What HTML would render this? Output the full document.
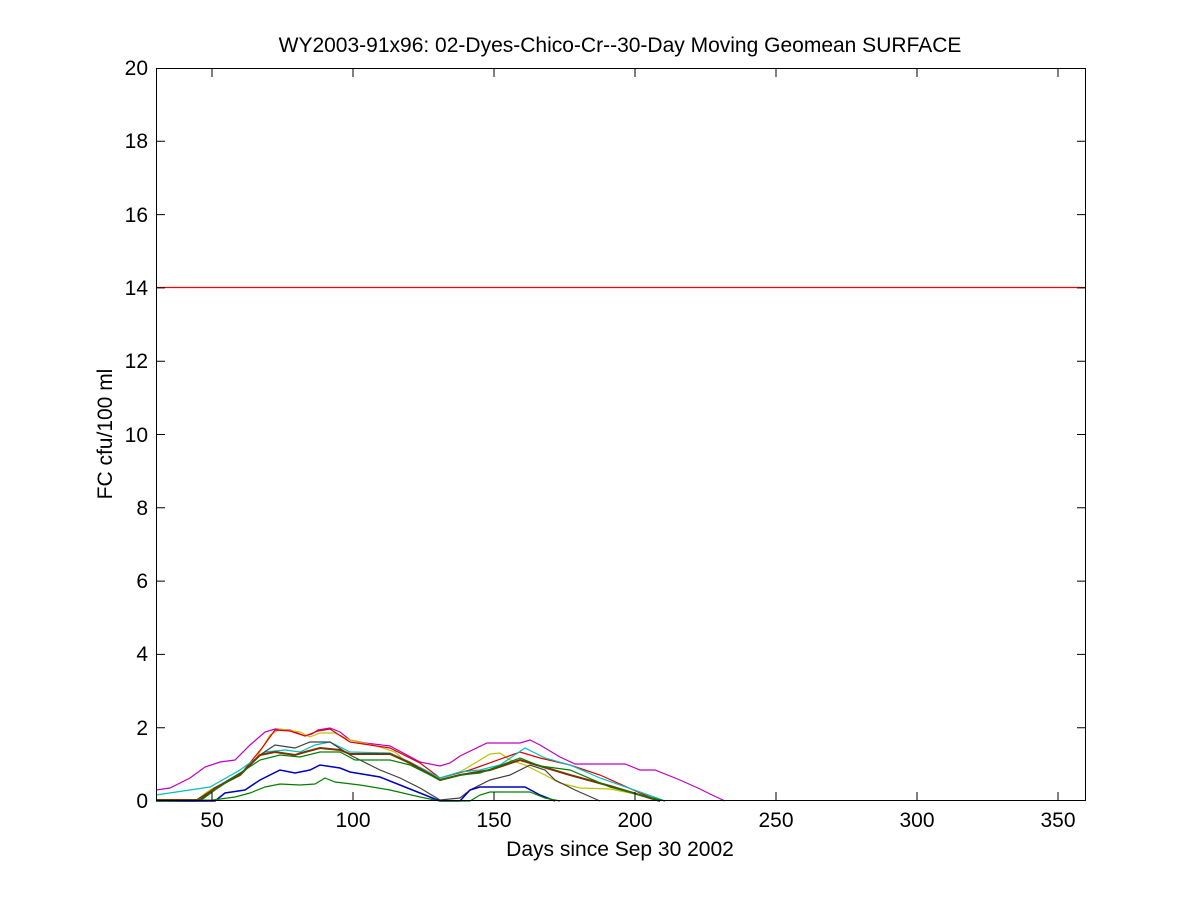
<!DOCTYPE html>
<html><head><meta charset="utf-8"><style>body{margin:0;background:#fff}svg{display:block}text{font-family:"Liberation Sans",sans-serif;font-size:21px;fill:#000}</style></head><body>
<svg width="1200" height="900" viewBox="0 0 1200 900">
<rect width="1200" height="900" fill="#fff"/>
<g fill="none" stroke-width="1.2">
<line x1="156" y1="287.5" x2="1086" y2="287.5" stroke="#f00"/>
<polyline stroke="#c000c0" points="156,790 170,788 190,778 205,767 220,762 235,760 250,745 265,732 275,729 290,730 305,736 312,734 318,730 330,728 340,732 350,740 365,743 390,746 420,762 440,766 450,763 460,756 487,743 520,743 530,740 540,745 560,757 575,764 625,764 640,770 655,770 680,780 700,789 710,794 725,801"/>
<polyline stroke="#c0c000" points="156,801 195,801 210,790 240,775 255,760 270,735 280,729 300,732 310,737 320,733 335,733 350,740 380,747 395,752 410,765 440,778 460,772 480,760 490,754 500,753 510,760 525,765 545,775 560,783 580,788 610,789 640,795 660,801"/>
<polyline stroke="#e00000" points="156,800 200,800 215,788 240,775 262,748 275,730 290,731 305,736 318,731 330,729 350,742 390,748 420,763 440,778 470,770 520,752 540,758 570,765 600,775 640,793 660,801"/>
<polyline stroke="#00c0c0" points="156,795 210,787 240,770 265,752 285,750 300,752 315,745 330,742 350,752 390,753 410,762 440,778 460,772 480,770 500,765 525,748 545,758 570,765 600,778 640,792 665,801"/>
<polyline stroke="#404040" points="156,801 195,801 220,785 245,770 260,755 275,745 295,748 310,742 330,742 350,755 380,770 400,778 420,788 440,800 460,798 470,790 490,780 510,775 530,765 545,770 555,780 575,790 600,801"/>
<polyline stroke="#803000" stroke-width="2" points="156,800 200,800 215,788 240,775 260,755 275,752 295,755 305,752 320,748 340,750 350,754 390,754 410,763 440,780 460,775 490,770 520,760 540,766 570,775 610,786 640,795 660,801"/>
<polyline stroke="#008000" points="156,801 200,801 215,790 260,760 280,755 300,757 320,752 340,752 355,760 390,760 410,765 440,780 460,775 480,773 520,758 540,766 570,770 610,787 640,795 665,801"/>
<polyline stroke="#0000c0" stroke-width="1.5" points="156,801 215,801 225,793 245,790 260,780 280,770 295,773 310,770 320,765 340,768 350,772 380,777 400,785 420,793 440,801 460,801 470,790 480,787 525,787 540,795 555,801"/>
<polyline stroke="#008000" points="156,801 213,800 235,797 250,793 265,787 280,784 300,785 315,784 325,778 335,782 360,785 390,790 420,797 440,801 470,801 480,795 490,792 530,792 545,798 560,801"/>
</g>
<rect x="156.5" y="68.5" width="929" height="732" fill="none" stroke="#000" stroke-width="1"/>
<g stroke="#000" stroke-width="1">
<path d="M212,801v-9M212,68v9M353,801v-9M353,68v9M494,801v-9M494,68v9M635,801v-9M635,68v9M776,801v-9M776,68v9M917,801v-9M917,68v9M1058,801v-9M1058,68v9"/>
<path d="M156,727.7h9M1086,727.7h-9M156,654.4h9M1086,654.4h-9M156,581.1h9M1086,581.1h-9M156,507.8h9M1086,507.8h-9M156,434.5h9M1086,434.5h-9M156,361.2h9M1086,361.2h-9M156,287.9h9M1086,287.9h-9M156,214.6h9M1086,214.6h-9M156,141.3h9M1086,141.3h-9"/>
</g>
<g text-anchor="middle">
<text x="212" y="827">50</text><text x="353" y="827">100</text><text x="494" y="827">150</text><text x="635" y="827">200</text><text x="776" y="827">250</text><text x="917" y="827">300</text><text x="1058" y="827">350</text>
<text x="620" y="856">Days since Sep 30 2002</text>
<text x="620" y="52">WY2003-91x96: 02-Dyes-Chico-Cr--30-Day Moving Geomean SURFACE</text>
</g>
<g text-anchor="end">
<text x="148" y="808">0</text><text x="148" y="735">2</text><text x="148" y="661">4</text><text x="148" y="588">6</text><text x="148" y="515">8</text><text x="148" y="442">10</text><text x="148" y="368">12</text><text x="148" y="295">14</text><text x="148" y="222">16</text><text x="148" y="148">18</text><text x="148" y="75">20</text>
</g>
<text transform="translate(112,434) rotate(-90)" text-anchor="middle">FC cfu/100 ml</text>
</svg>
</body></html>
